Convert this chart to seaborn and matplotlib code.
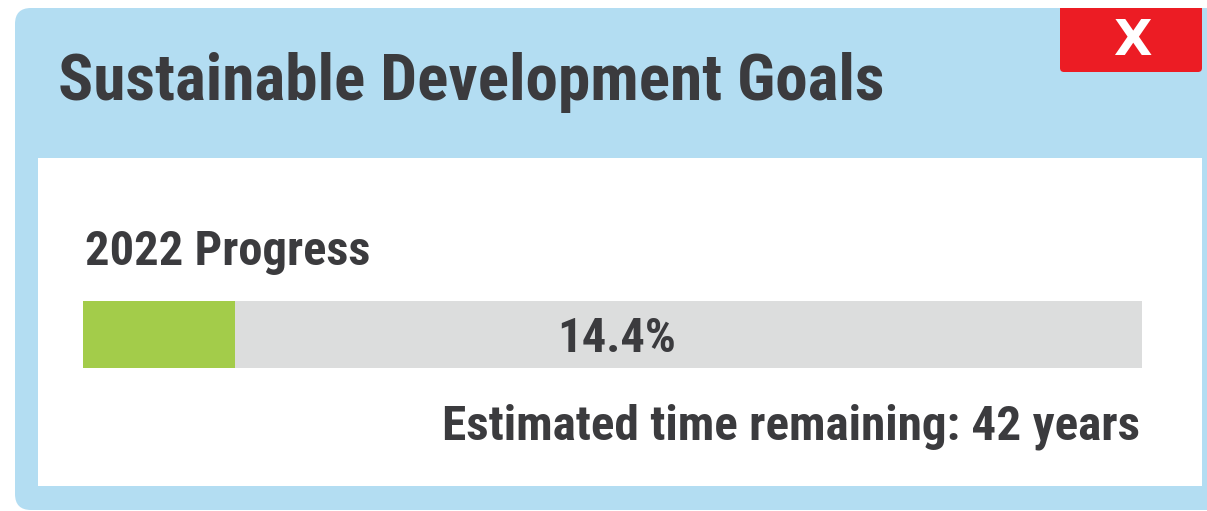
import pandas as pd
import matplotlib.pyplot as plt
import seaborn as sns
from matplotlib.patches import FancyBboxPatch, Rectangle

# values shown on the card
title = "Sustainable Development Goals"
year = 2022
progress_pct = [14.4]
years_left = 42

sns.set_theme(style="white")
plt.rcParams['font.family'] = ['Roboto Condensed', 'Liberation Sans Narrow', 'Roboto', 'DejaVu Sans']

W, H = 1207, 511
fig = plt.figure(figsize=(W / 100, H / 100), dpi=100)
fig.patch.set_facecolor('white')

# pixel-space axes for the card frame
ax = fig.add_axes([0, 0, 1, 1])
ax.set_xlim(0, W)
ax.set_ylim(H, 0)
ax.axis('off')

blue = '#b3ddf2'
text_col = '#3b3b3e'
ax.add_patch(FancyBboxPatch((15, 8), 1230, 502, boxstyle='round,pad=0,rounding_size=16',
                            fc=blue, ec='none'))
ax.add_patch(Rectangle((38, 158), 1164, 328, fc='white', ec='none'))
ax.add_patch(FancyBboxPatch((1060, 8), 142, 64, boxstyle='round,pad=0,rounding_size=4',
                            fc='#ec1c24', ec='none'))
ax.add_patch(Rectangle((1060, 8), 142, 10, fc='#ec1c24', ec='none'))
ax.text(1132, 41, 'X', ha='center', va='center', color='white', fontsize=36,
        fontweight='heavy', family='DejaVu Sans')

ax.text(58, 100, title, fontsize=47, fontweight='bold', color=text_col, va='baseline')
ax.text(85, 265, f"{year} Progress", fontsize=35, fontweight='bold', color=text_col, va='baseline')

# progress bar
bax = fig.add_axes([83 / W, 1 - 368 / H, (1142 - 83) / W, 67 / H])
df = pd.DataFrame({'goal': ['SDG'], 'total': [100], 'done': progress_pct})
sns.barplot(data=df, x='total', y='goal', color='#dcdddd', saturation=1, width=1,
            linewidth=0, ax=bax)
sns.barplot(data=df, x='done', y='goal', color='#a3cc4a', saturation=1, width=1,
            linewidth=0, ax=bax)
bax.set_xlim(0, 100)
bax.set_ylim(0.5, -0.5)
bax.axis('off')

# label sits on the bar axes so it is drawn above the bars
bax.text(617, 352, f"{progress_pct[0]}%", fontsize=35, fontweight='bold', color=text_col,
         ha='center', va='baseline', transform=ax.transData, zorder=5)
ax.text(1140, 440, f"Estimated time remaining: {years_left} years", fontsize=35.5,
        fontweight='bold', color=text_col, ha='right', va='baseline')

fig.savefig('out.png', dpi=100)
